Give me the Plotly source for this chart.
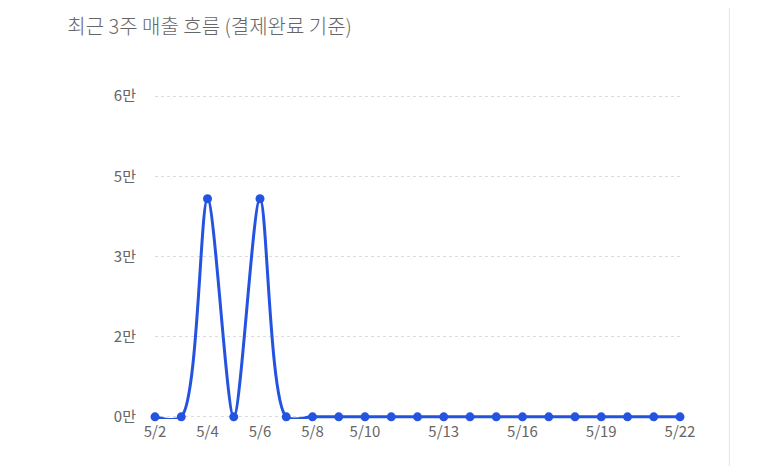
import plotly.graph_objects as go

dates = ["5/2", "5/3", "5/4", "5/5", "5/6", "5/7", "5/8", "5/9", "5/10", "5/11", "5/12",
         "5/13", "5/14", "5/15", "5/16", "5/17", "5/18", "5/19", "5/20", "5/21", "5/22"]
sales = [0, 0, 40800, 0, 40800, 0, 0, 0, 0, 0, 0, 0, 0, 0, 0, 0, 0, 0, 0, 0, 0]
x_ticks = ["5/2", "5/4", "5/6", "5/8", "5/10", "5/13", "5/16", "5/19", "5/22"]
y_ticks = [0, 15000, 30000, 45000, 60000]
y_labels = ["0만", "2만", "3만", "5만", "6만"]

font = "Noto Sans CJK KR"
fig = go.Figure(go.Scatter(
    x=list(range(len(dates))), y=sales, mode="lines+markers",
    line=dict(color="#2453e0", width=3, shape="spline", smoothing=0.8),
    marker=dict(size=9, color="#2453e0"), cliponaxis=False,
))
fig.update_layout(
    width=770, height=466, margin=dict(l=147, r=98, t=86, b=55),
    paper_bgcolor="white", plot_bgcolor="white", showlegend=False,
    font=dict(family=font, color="#666", size=15),
    title=dict(text="최근 3주 매출 흐름 (결제완료 기준)", x=0.077, xanchor="left",
               y=0.96, yanchor="middle",
               font=dict(size=20, color="#666", family=font, weight=300)),
    xaxis=dict(range=[0, 20], tickvals=[dates.index(t) for t in x_ticks], ticktext=x_ticks,
               showgrid=False, zeroline=False, showline=False, ticks="", ticklabelstandoff=2),
    yaxis=dict(range=[-400, 60400], tickvals=y_ticks, ticktext=y_labels, showgrid=True,
               gridcolor="#dddddd", griddash="dot", zeroline=False, ticks="",
               ticklabelstandoff=18),
    shapes=[dict(type="line", xref="paper", yref="paper", x0=1.094, x1=1.094, y0=-0.2, y1=1.3,
                 line=dict(color="#e6e6e6", width=1))],
)
fig.write_html("out.html")
